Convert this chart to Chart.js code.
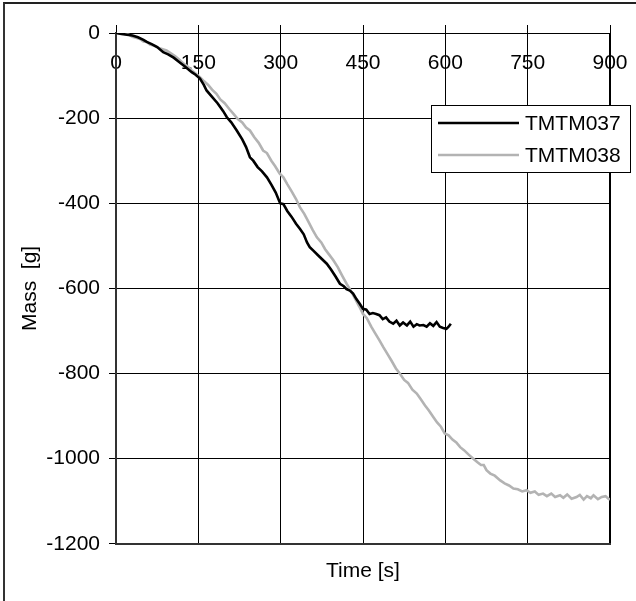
<!DOCTYPE html>
<html>
<head>
<meta charset="utf-8">
<script src="https://cdn.jsdelivr.net/npm/chart.js@4.4.1/dist/chart.umd.min.js"></script>
<style>
  html, body { margin: 0; padding: 0; background: #fff; }
  #wrap { position: relative; width: 636px; height: 601px; overflow: hidden; }
  #frame { position: absolute; left: 3px; top: 2px; width: 700px; height: 700px;
           border-left: 2px solid #333; border-top: 2px solid #222; box-sizing: border-box; }
  #c { position: absolute; left: 0; top: 0; }
</style>
</head>
<body>
<div id="wrap">
  <div id="frame"></div>
  <canvas id="c" width="636" height="601"></canvas>
</div>
<script>
// ---- data ----
const seriesNames = ["TMTM037", "TMTM038"];
const xTicks = [0, 150, 300, 450, 600, 750, 900];
const yTicks = [0, -200, -400, -600, -800, -1000, -1200];

const timeA = [0,10,20,30,40,50,56,65,75,86,95,105,115,125,138,145,153,160,165,175,185,195,202,210,220,230,237,244,250,258,266,275,283,291,299,305,312,320,328,335,342,348,353,360,368,376,384,392,400,408,415,420,426,432,438,444,450,456,462,468,474,480,486,492,498,505,511,517,523,530,536,542,548,553,560,566,572,578,584,590,596,602,606,610];
const massA = [0,-2,-4,-6,-10,-16,-21,-26,-33,-45,-50,-58,-68,-78,-92,-98,-107,-122,-135,-150,-165,-183,-198,-210,-229,-250,-268,-292,-300,-315,-325,-339,-356,-375,-400,-402,-418,-432,-448,-460,-473,-492,-503,-512,-522,-532,-542,-556,-572,-589,-595,-602,-605,-612,-625,-636,-648,-650,-660,-658,-660,-663,-672,-668,-678,-683,-676,-687,-680,-687,-678,-690,-684,-687,-686,-690,-682,-688,-679,-690,-693,-695,-690,-683];

const timeB = [0,10,19,25,30,38,45,50,56,62,70,78,85,92,100,108,115,123,130,138,145,153,160,168,175,183,190,198,206,214,222,230,237,244,252,260,268,275,283,290,298,305,312,320,328,335,343,350,358,366,374,381,388,396,404,412,420,428,436,443,450,457,465,472,480,487,495,502,510,517,525,532,540,548,555,563,570,578,585,592,599,606,613,620,627,634,642,651,658,665,670,675,682,690,700,708,716,724,732,740,748,755,763,770,778,785,793,800,809,815,822,830,839,845,852,858,865,870,878,885,892,897,900];
const massB = [0,-1,-2,-5,-9,-12,-15,-20,-21,-27,-30,-35,-38,-41,-48,-55,-62,-72,-78,-88,-95,-104,-113,-122,-133,-143,-156,-165,-178,-190,-202,-210,-222,-229,-245,-258,-276,-282,-300,-313,-330,-339,-355,-372,-390,-409,-425,-442,-462,-480,-492,-508,-520,-534,-550,-570,-589,-606,-625,-642,-660,-670,-690,-705,-722,-738,-755,-770,-788,-800,-815,-822,-838,-847,-860,-875,-887,-902,-915,-925,-941,-945,-955,-962,-973,-980,-990,-1000,-1008,-1015,-1015,-1027,-1035,-1040,-1051,-1058,-1063,-1070,-1072,-1077,-1074,-1080,-1077,-1085,-1082,-1088,-1082,-1090,-1086,-1092,-1084,-1094,-1090,-1085,-1096,-1088,-1093,-1086,-1095,-1090,-1088,-1094,-1096];

const toPoints = (xs, ys) => xs.map((x, i) => ({ x: x, y: ys[i] }));

const FONT = { family: "'Liberation Sans', Arial, sans-serif", size: 21 };

const legendPlugin = {
  id: 'boxLegend',
  afterDraw(chart) {
    const ctx = chart.ctx;
    const ds = chart.data.datasets;
    const bx = 431.5, by = 105.5, bw = 199, bh = 67;
    ctx.save();
    ctx.fillStyle = '#fff';
    ctx.fillRect(bx, by, bw, bh);
    ctx.strokeStyle = '#000';
    ctx.lineWidth = 1;
    ctx.strokeRect(bx, by, bw, bh);
    const rows = [123, 155];
    ds.forEach((d, i) => {
      ctx.beginPath();
      ctx.strokeStyle = d.borderColor;
      ctx.lineWidth = d.borderWidth;
      ctx.moveTo(438, rows[i]);
      ctx.lineTo(519, rows[i]);
      ctx.stroke();
      ctx.fillStyle = '#000';
      ctx.font = FONT.size + 'px ' + FONT.family;
      ctx.textBaseline = 'middle';
      ctx.textAlign = 'left';
      ctx.fillText(d.label, 525, rows[i] + 1);
    });
    ctx.restore();
  }
};

const noSidePad = (s) => { s.paddingLeft = 0; s.paddingRight = 0; };

new Chart(document.getElementById('c'), {
  type: 'line',
  data: {
    datasets: [
      { label: seriesNames[0], data: toPoints(timeA, massA), borderColor: '#000', borderWidth: 2.6,
        pointRadius: 0, tension: 0, fill: false, xAxisID: 'x', yAxisID: 'y' },
      { label: seriesNames[1], data: toPoints(timeB, massB), borderColor: '#b3b3b3', borderWidth: 2.6,
        pointRadius: 0, tension: 0, fill: false, xAxisID: 'x', yAxisID: 'y' }
    ]
  },
  options: {
    responsive: false,
    animation: false,
    devicePixelRatio: 1,
    layout: { padding: { left: 0, right: 26, top: 25, bottom: 0 } },
    plugins: { legend: { display: false }, tooltip: { enabled: false } },
    scales: {
      x: {
        type: 'linear', position: 'bottom', min: 0, max: 900,
        afterBuildTicks: (s) => { s.ticks = xTicks.map(v => ({ value: v })); },
        afterFit: noSidePad,
        ticks: { display: false },
        grid: { color: '#000', lineWidth: (c) => (c.tick && c.tick.value === 900 ? 2 : 1), drawTicks: false },
        border: { display: true, color: '#333', width: 2 },
        title: { display: true, text: 'Time [s]', color: '#000', font: FONT, padding: { top: 15, bottom: 17 } }
      },
      xTop: {
        type: 'linear', position: 'top', min: 0, max: 900,
        afterBuildTicks: (s) => { s.ticks = xTicks.map(v => ({ value: v })); },
        afterFit: noSidePad,
        ticks: { display: false },
        grid: { drawOnChartArea: false, color: '#000', tickLength: 8 },
        border: { display: false }
      },
      xLab: {
        type: 'linear', position: { y: 0 }, min: 0, max: 900,
        afterBuildTicks: (s) => { s.ticks = xTicks.map(v => ({ value: v })); },
        afterFit: noSidePad,
        ticks: { color: '#000', font: FONT, padding: 10, maxRotation: 0, autoSkip: false,
                 callback: (v) => String(v) },
        grid: { display: false },
        border: { display: false }
      },
      y: {
        type: 'linear', position: 'left', min: -1200, max: 0,
        afterBuildTicks: (s) => { s.ticks = yTicks.map(v => ({ value: v })); },
        afterFit: (s) => { s.width = 116; },
        ticks: { color: '#000', font: FONT, padding: 9, callback: (v) => String(v) },
        grid: { color: '#000', lineWidth: 1, tickLength: 7 },
        border: { display: true, color: '#333', width: 2 },
        title: { display: true, text: 'Mass  [g]', color: '#000', font: FONT, padding: { top: 18, bottom: 4 } }
      }
    }
  },
  plugins: [legendPlugin]
});
</script>
</body>
</html>
